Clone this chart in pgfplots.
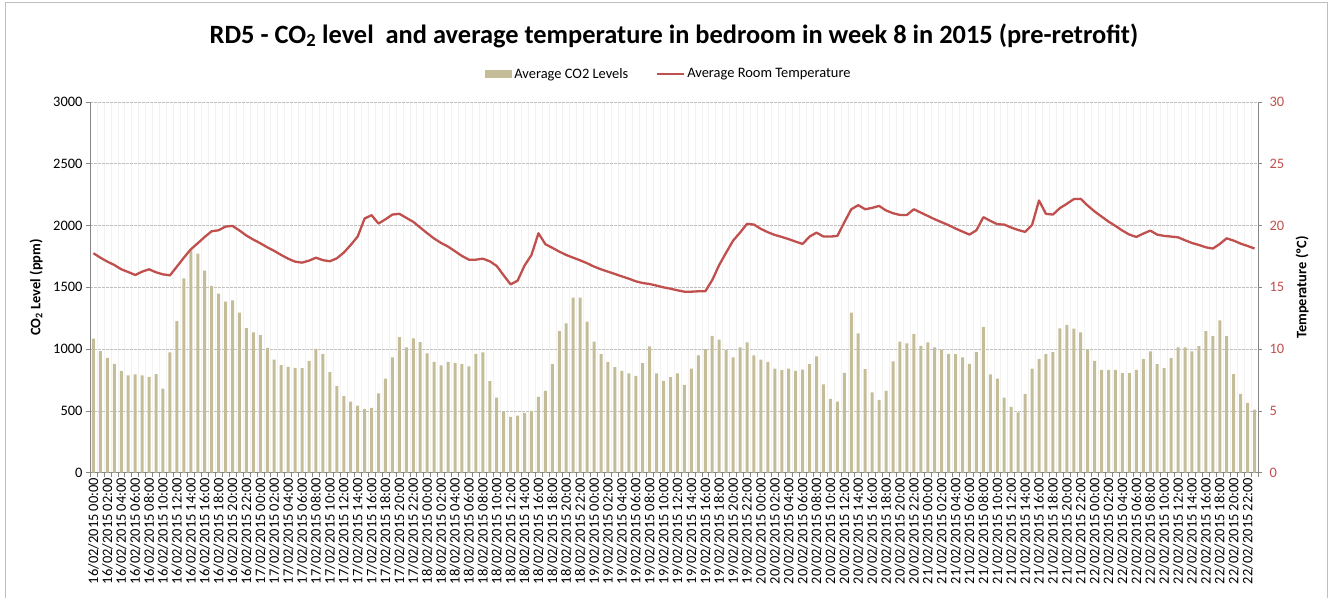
\documentclass[border=0pt]{standalone}
\usepackage{fontspec}
\setmainfont{Carlito}
\usepackage{pgfplots}
\usepackage{pgfplotstable}
\pgfplotsset{compat=1.18}

\definecolor{co2tan}{RGB}{196,189,151}
\definecolor{temprd}{RGB}{192,80,77}
\definecolor{axgray}{RGB}{134,134,134}
\definecolor{gridgray}{RGB}{192,192,192}
\definecolor{vgrid}{RGB}{242,242,242}

% hourly readings, week 8 of 2015: k = hours since 16/02/2015 00:00
\pgfplotstableread{
k co2 temp
0 1085 17.76
1 984 17.40
2 930 17.08
3 881 16.81
4 824 16.46
5 787 16.24
6 795 16.00
7 787 16.27
8 776 16.46
9 797 16.22
10 681 16.05
11 973 15.97
12 1227 16.68
13 1573 17.40
14 1800 18.08
15 1773 18.57
16 1635 19.08
17 1511 19.54
18 1449 19.62
19 1384 19.92
20 1395 19.97
21 1295 19.60
22 1170 19.19
23 1135 18.86
24 1114 18.57
25 1011 18.24
26 916 17.95
27 870 17.62
28 857 17.32
29 849 17.08
30 846 17.00
31 905 17.16
32 1003 17.40
33 960 17.20
34 814 17.11
35 700 17.35
36 619 17.81
37 576 18.43
38 543 19.11
39 516 20.57
40 524 20.84
41 641 20.16
42 762 20.51
43 933 20.89
44 1097 20.95
45 1014 20.62
46 1087 20.30
47 1057 19.84
48 965 19.38
49 897 18.95
50 868 18.59
51 897 18.30
52 889 17.92
53 878 17.54
54 860 17.24
55 962 17.24
56 973 17.32
57 741 17.11
58 608 16.73
59 497 15.97
60 451 15.24
61 462 15.54
62 484 16.76
63 500 17.62
64 614 19.38
65 662 18.49
66 878 18.20
67 1146 17.89
68 1208 17.62
69 1416 17.40
70 1416 17.19
71 1222 16.95
72 1060 16.68
73 962 16.46
74 897 16.27
75 854 16.08
76 824 15.89
77 803 15.70
78 784 15.49
79 887 15.35
80 1022 15.27
81 803 15.14
82 743 15.00
83 773 14.89
84 803 14.76
85 711 14.65
86 843 14.65
87 949 14.68
88 1000 14.68
89 1108 15.59
90 1076 16.81
91 992 17.81
92 933 18.78
93 1014 19.43
94 1054 20.14
95 949 20.08
96 916 19.73
97 897 19.46
98 843 19.24
99 830 19.08
100 843 18.90
101 824 18.70
102 835 18.51
103 878 19.11
104 941 19.43
105 714 19.11
106 597 19.11
107 576 19.16
108 808 20.27
109 1295 21.32
110 1127 21.65
111 838 21.32
112 651 21.43
113 589 21.59
114 662 21.22
115 900 21.00
116 1060 20.86
117 1046 20.86
118 1124 21.32
119 1027 21.05
120 1054 20.78
121 1014 20.51
122 997 20.27
123 962 20.03
124 960 19.76
125 933 19.51
126 881 19.27
127 976 19.62
128 1178 20.68
129 795 20.38
130 762 20.11
131 608 20.08
132 532 19.84
133 489 19.64
134 638 19.49
135 843 20.05
136 919 22.03
137 960 20.95
138 976 20.89
139 1168 21.41
140 1197 21.76
141 1165 22.14
142 1135 22.16
143 1000 21.62
144 905 21.14
145 833 20.73
146 833 20.32
147 833 19.97
148 805 19.59
149 805 19.27
150 833 19.08
151 919 19.35
152 981 19.59
153 878 19.27
154 846 19.16
155 927 19.11
156 1014 19.05
157 1014 18.81
158 981 18.59
159 1024 18.43
160 1146 18.24
161 1106 18.14
162 1233 18.51
163 1106 18.97
164 797 18.78
165 638 18.54
166 565 18.35
167 511 18.14
}\weekdata

\newcommand\smallfont{\fontsize{14.5}{17}\selectfont}

\pgfplotsset{
  weekaxis/.style={
    width=1168bp, height=370.7bp, scale only axis,
    xmin=-0.5, xmax=167.5,
    axis line style={axgray, line width=0.8bp, -},
    tick align=outside,
    major tick length=4bp, minor tick length=4bp,
    tick style={axgray, line width=0.6bp},
    /pgf/number format/assume math mode=true,
    /pgf/number format/1000 sep={},
    ticklabel style={font=\smallfont},
  }
}

\begin{document}
\begin{tikzpicture}
\path[use as bounding box] (-90bp,-125.3bp) rectangle (1243bp,472.7bp);
% chart area frame
\draw[gray!50, line width=0.8bp] (-85bp,-140bp) -- (-85bp,470.7bp) -- (1237bp,470.7bp) -- (1237bp,-140bp);

% CO2 bars on the left axis
\begin{axis}[
  weekaxis,
  ymin=0, ymax=3000,
  axis y line*=left, axis x line*=bottom,
  ytick={0,500,...,3000},
  ymajorgrids, major grid style={gridgray, line width=0.7bp, dash pattern=on 3bp off 1bp},
  xtick={0,2,...,166},
  major x tick style={draw=none},
  minor xtick={-0.5,0.5,...,167.5},
  xminorgrids, minor grid style={vgrid, line width=0.6bp},
  xticklabels={
    16/02/2015 00:00,16/02/2015 02:00,16/02/2015 04:00,16/02/2015 06:00,16/02/2015 08:00,16/02/2015 10:00,
    16/02/2015 12:00,16/02/2015 14:00,16/02/2015 16:00,16/02/2015 18:00,16/02/2015 20:00,16/02/2015 22:00,
    17/02/2015 00:00,17/02/2015 02:00,17/02/2015 04:00,17/02/2015 06:00,17/02/2015 08:00,17/02/2015 10:00,
    17/02/2015 12:00,17/02/2015 14:00,17/02/2015 16:00,17/02/2015 18:00,17/02/2015 20:00,17/02/2015 22:00,
    18/02/2015 00:00,18/02/2015 02:00,18/02/2015 04:00,18/02/2015 06:00,18/02/2015 08:00,18/02/2015 10:00,
    18/02/2015 12:00,18/02/2015 14:00,18/02/2015 16:00,18/02/2015 18:00,18/02/2015 20:00,18/02/2015 22:00,
    19/02/2015 00:00,19/02/2015 02:00,19/02/2015 04:00,19/02/2015 06:00,19/02/2015 08:00,19/02/2015 10:00,
    19/02/2015 12:00,19/02/2015 14:00,19/02/2015 16:00,19/02/2015 18:00,19/02/2015 20:00,19/02/2015 22:00,
    20/02/2015 00:00,20/02/2015 02:00,20/02/2015 04:00,20/02/2015 06:00,20/02/2015 08:00,20/02/2015 10:00,
    20/02/2015 12:00,20/02/2015 14:00,20/02/2015 16:00,20/02/2015 18:00,20/02/2015 20:00,20/02/2015 22:00,
    21/02/2015 00:00,21/02/2015 02:00,21/02/2015 04:00,21/02/2015 06:00,21/02/2015 08:00,21/02/2015 10:00,
    21/02/2015 12:00,21/02/2015 14:00,21/02/2015 16:00,21/02/2015 18:00,21/02/2015 20:00,21/02/2015 22:00,
    22/02/2015 00:00,22/02/2015 02:00,22/02/2015 04:00,22/02/2015 06:00,22/02/2015 08:00,22/02/2015 10:00,
    22/02/2015 12:00,22/02/2015 14:00,22/02/2015 16:00,22/02/2015 18:00,22/02/2015 20:00,22/02/2015 22:00},
  x tick label style={rotate=90, anchor=east, font=\smallfont, inner sep=1bp},
  ylabel={CO\textsubscript{2} Level (ppm)},
  ylabel style={at={(axis description cs:-0.0462,0.5)}, anchor=center, font=\bfseries\smallfont},
  title={RD5 - CO\textsubscript{2} level\ \ and average temperature in bedroom in week 8 in 2015 (pre-retrofit)},
  title style={at={(axis description cs:0.5,1.163)}, anchor=center, font=\bfseries\fontsize{26.5}{30}\selectfont},
  legend columns=2,
  legend style={draw=none, fill=none, at={(axis description cs:0.4957,1.0755)}, anchor=center,
    font=\smallfont, /tikz/every even column/.append style={column sep=26bp}},
]
\addplot[ybar, bar width=3bp, fill=co2tan, draw=none,
  legend image code/.code={\fill[co2tan] (0bp,-4bp) rectangle (27bp,4bp);}]
  table[x=k, y=co2]{\weekdata};
\addlegendentry{Average CO2 Levels}
\addlegendimage{legend image code/.code={\draw[temprd, line width=2bp] (0bp,0bp) -- (27bp,0bp);}}
\addlegendentry{Average Room Temperature}
\end{axis}

% room temperature on the right axis
\begin{axis}[
  weekaxis,
  ymin=0, ymax=30,
  axis y line*=right, axis x line=none,
  ytick={0,5,...,30},
  yticklabel style={temprd, font=\smallfont, xshift=4bp},
  ylabel={Temperature (ºC)},
  ylabel style={at={(axis description cs:1.0377,0.5)}, anchor=center, font=\bfseries\smallfont},
]
\addplot[temprd, line width=2.3bp, mark=none, line join=round] table[x=k, y=temp]{\weekdata};
\end{axis}
\end{tikzpicture}
\end{document}
